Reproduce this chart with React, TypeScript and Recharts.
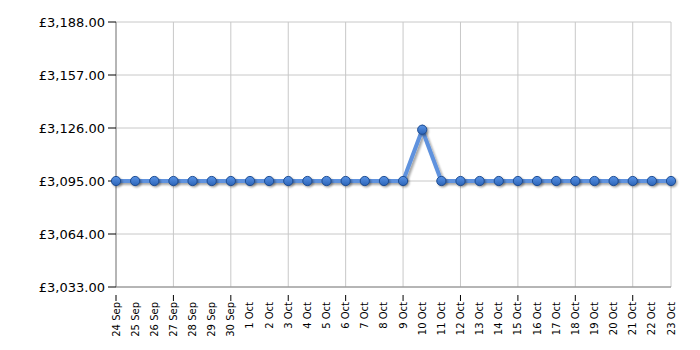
import React from "react";
import { LineChart, Line, XAxis, YAxis, CartesianGrid, ReferenceLine } from "recharts";

const dates = [
  "24 Sep", "25 Sep", "26 Sep", "27 Sep", "28 Sep", "29 Sep", "30 Sep",
  "1 Oct", "2 Oct", "3 Oct", "4 Oct", "5 Oct", "6 Oct", "7 Oct", "8 Oct", "9 Oct",
  "10 Oct", "11 Oct", "12 Oct", "13 Oct", "14 Oct", "15 Oct", "16 Oct", "17 Oct",
  "18 Oct", "19 Oct", "20 Oct", "21 Oct", "22 Oct", "23 Oct",
];
const prices = [
  3095, 3095, 3095, 3095, 3095, 3095, 3095,
  3095, 3095, 3095, 3095, 3095, 3095, 3095, 3095, 3095,
  3125, 3095, 3095, 3095, 3095, 3095, 3095, 3095,
  3095, 3095, 3095, 3095, 3095, 3095,
];
const yTicks = [3033, 3064, 3095, 3126, 3157, 3188];

const data = dates.map((d, i) => ({ date: d, price: prices[i] }));
const gridDates = dates.filter((_, i) => i % 3 === 0);

const FONT = "'DejaVu Sans', Verdana, sans-serif";

const fmt = (v: number) =>
  "£" + v.toLocaleString("en-GB", { minimumFractionDigits: 2, maximumFractionDigits: 2 });

const XTick = (props: any) => {
  const { x, y, payload, index } = props;
  return (
    <g>
      {index % 3 === 0 && index !== dates.length - 1 ? (
        <line x1={x} y1={y} x2={x} y2={y + 6} stroke="#000" strokeWidth={1} />
      ) : null}
      <text
        transform={`translate(${x},${y + 7}) rotate(-90)`}
        textAnchor="end"
        dominantBaseline="central"
        fontSize={10}
        fontFamily={FONT}
        fill="#000"
      >
        {payload.value}
      </text>
    </g>
  );
};

const Dot = (props: any) => {
  const { cx, cy } = props;
  if (cx == null || cy == null) return null;
  return (
    <g>
      <circle cx={cx + 1.5} cy={cy + 1.5} r={5} fill="#000" opacity={0.35} filter="url(#blur1)" />
      <circle cx={cx} cy={cy} r={4.6} fill="url(#dotGrad)" stroke="#1d4d94" strokeWidth={1} />
    </g>
  );
};

export default function App() {
  return (
    <LineChart
      width={700}
      height={350}
      data={data}
      margin={{ top: 14, right: 37, left: 0, bottom: 0 }}
    >
      <defs>
        <linearGradient id="dotGrad" x1="0" y1="0" x2="0" y2="1">
          <stop offset="0%" stopColor="#5a94e6" />
          <stop offset="100%" stopColor="#2c64b8" />
        </linearGradient>
        <filter id="blur1" x="-50%" y="-50%" width="200%" height="200%">
          <feGaussianBlur stdDeviation="1" />
        </filter>
        <filter id="lineShadow" x="-5%" y="-50%" width="110%" height="200%">
          <feGaussianBlur in="SourceAlpha" stdDeviation="1" />
          <feOffset dx="2" dy="2" result="off" />
          <feComponentTransfer>
            <feFuncA type="linear" slope="0.35" />
          </feComponentTransfer>
          <feMerge>
            <feMergeNode />
            <feMergeNode in="SourceGraphic" />
          </feMerge>
        </filter>
      </defs>
      <CartesianGrid vertical={false} stroke="#c8c8c8" strokeWidth={1} />
      {gridDates.map((d) => (
        <ReferenceLine key={d} x={d} stroke="#c8c8c8" strokeWidth={1} />
      ))}
      <ReferenceLine x={dates[dates.length - 1]} stroke="#c8c8c8" strokeWidth={1} />
      <XAxis
        dataKey="date"
        interval={0}
        height={71}
        tickLine={false}
        axisLine={{ stroke: "#888", strokeWidth: 1 }}
        tick={<XTick />}
        padding={{ left: 0, right: 0 }}
      />
      <YAxis
        width={108}
        domain={[3033, 3188]}
        ticks={yTicks}
        interval={0}
        tickFormatter={fmt}
        tickSize={8}
        tickMargin={3}
        tickLine={{ stroke: "#000" }}
        axisLine={{ stroke: "#888", strokeWidth: 1 }}
        tick={{ fontSize: 13, fontFamily: FONT, fill: "#000" }}
      />
      <Line
        type="linear"
        dataKey="price"
        stroke="#5e92de"
        strokeWidth={4}
        filter="url(#lineShadow)"
        dot={<Dot />}
        activeDot={false}
        isAnimationActive={false}
      />
    </LineChart>
  );
}
